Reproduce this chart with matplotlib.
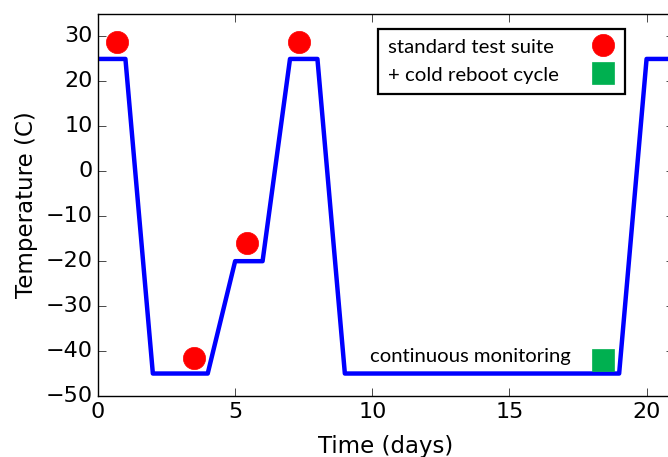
import matplotlib
matplotlib.use('Agg')
import matplotlib.pyplot as plt
import matplotlib.patches as mplpatches

plt.style.use('classic')

# temperature profile (days, deg C)
profileDays = [0, 1, 2, 4, 5, 6, 7, 8, 9, 19, 20, 21]
profileTemps = [25, 25, -45, -45, -20, -20, 25, 25, -45, -45, 25, 25]

# test suite runs
suiteDays = [0.7, 3.5, 5.43, 7.33]
suiteTemps = [28.7, -41.5, -16.0, 28.7]

# cold reboot cycle
rebootDays = [18.4]
rebootTemps = [-42.0]

# key entries
keyLabels = ['standard test suite', '+ cold reboot cycle']
keyDays = [18.4, 18.4]
keyTemps = [28.1, 21.9]

figureWidth = 6.68
figureHeight = 4.57
fig = plt.figure(figsize=(figureWidth, figureHeight), dpi=100, facecolor='white')
ax = fig.add_axes([98/668, 61/457, 576/668, 382/457])

ax.plot(profileDays, profileTemps, color='#0000ff', linewidth=3.2, zorder=2)
ax.plot(suiteDays, suiteTemps, linestyle='none', marker='o', markersize=16,
        markerfacecolor='#ff0000', markeredgecolor='#ff0000', zorder=3)
ax.plot(rebootDays, rebootTemps, linestyle='none', marker='s', markersize=15.5,
        markerfacecolor='#00b050', markeredgecolor='#00b050', zorder=3)
ax.plot(keyDays[:1], keyTemps[:1], linestyle='none', marker='o', markersize=16,
        markerfacecolor='#ff0000', markeredgecolor='#ff0000', zorder=3)
ax.plot(keyDays[1:], keyTemps[1:], linestyle='none', marker='s', markersize=15.5,
        markerfacecolor='#00b050', markeredgecolor='#00b050', zorder=3)

# key box
keyBox = mplpatches.Rectangle((10.2, 17.3), 9.0, 14.3, facecolor='white',
                              edgecolor='black', linewidth=1.6, zorder=1)
ax.add_patch(keyBox)
textFont = ['Lato', 'DejaVu Sans']
for label, yPos in zip(keyLabels, keyTemps):
    ax.text(10.57, yPos - 0.5, label, fontsize=14.7, family=textFont,
            ha='left', va='center')
ax.text(9.92, -41.3, 'continuous monitoring', fontsize=14.6, family=textFont,
        ha='left', va='center')

ax.set_xlim(0, 21)
ax.set_ylim(-50, 35)
ax.set_xticks([0, 5, 10, 15, 20])
ax.set_yticks(range(-50, 31, 10))
ax.tick_params(labelsize=16, direction='in', length=6)
ax.set_xlabel('Time (days)', fontsize=16.5, labelpad=10)
ax.set_ylabel('Temperature (C)', fontsize=16.5)

fig.savefig('out.png', dpi=100, facecolor='white')
